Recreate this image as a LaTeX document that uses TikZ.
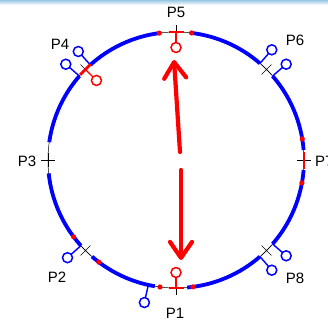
\documentclass[tikz,border=0pt]{standalone}
\usepackage{fontspec}
\setmainfont{Liberation Sans}
\usepackage{tikz}
\usetikzlibrary{arrows.meta}
\usepackage{xcolor}
\definecolor{trackblue}{RGB}{0,0,255}
\definecolor{markred}{RGB}{255,0,0}
\definecolor{chrome}{RGB}{150,200,228}
\tikzset{
  ring/.style={draw=black,line width=0.5pt},
  track/.style={draw=trackblue,line width=3.8pt},
  cross/.style={draw=black,line width=0.6pt},
  reddot/.style={fill=markred},
  stem/.style={draw=trackblue,line width=1.4pt},
  ball/.style={draw=trackblue,line width=1.5pt,fill=white},
  redbar/.style={draw=markred,line width=2.8pt},
  redstem/.style={draw=markred,line width=1.4pt},
  redball/.style={draw=markred,line width=1.5pt,fill=white},
  bigarrow/.style={draw=markred,line width=4.2pt,line cap=round,line join=round,
    -{Straight Barb[length=16pt,width=22pt,round]}},
  plabel/.style={font=\fontsize{15}{17}\selectfont,inner sep=0pt},
}

\begin{document}
\begin{tikzpicture}[x=1pt,y=1pt]
      \clip (-176,-161) rectangle (152,160);
      \fill[top color=chrome,bottom color=white] (-176,155) rectangle (152,160);
      \draw[ring] (0,0) circle (128);
      \foreach \a/\b in {49/83,4.5/41,-41/-4.5,275/311,229/260.5,186/222,139/172,97.5/132}
        \draw[track] (\a:128) arc[start angle=\a,end angle=\b,radius=128];
      \foreach \a in {97.5,83,9.5,-10.3,277.6,262.8,232.9,216.9}
        \fill[reddot] (\a:128) circle (2.6);
      \foreach \a in {0,45,...,315}
        \draw[cross,rotate=\a] (121,0) -- (135,0) (128,-7) -- (128,7);
      \foreach \a in {41,49,132,139,222,257.5,311,319}{
        \draw[stem] (\a:128) -- (\a:141);
        \draw[ball] (\a:146) circle (5);
      }
      \draw[redbar] (128,-8.5) -- (128,8.5);
      \foreach \a in {90,135,270}{
        \draw[redbar,rotate=\a] (128,-7.5) -- (128,7.5);
        \draw[redstem,rotate=\a] (128,0) -- (117,0);
        \draw[redball] (\a:112.5) circle (5);
      }
      \node[plabel] (lP5) at (0,148) {P5};
      \node[plabel] (lP4) at (-116,116) {P4};
      \node[plabel] (lP6) at (119,120) {P6};
      \node[plabel] (lP3) at (-149,-1) {P3};
      \node[plabel,anchor=west] (lP7) at (139,-1) {P7};
      \node[plabel] (lP2) at (-119,-117) {P2};
      \node[plabel] (lP8) at (119,-118) {P8};
      \node[plabel] (lP1) at (-1,-153) {P1};
      \coordinate (upfoot) at (4,8);
      \coordinate (uptip) at (-2,100);
      \coordinate (downfoot) at (5,-10);
      \coordinate (downtip) at (5,-100);
      \draw[bigarrow] (upfoot) -- (uptip);
      \draw[bigarrow] (downfoot) -- (downtip);
    \end{tikzpicture}
\end{document}
